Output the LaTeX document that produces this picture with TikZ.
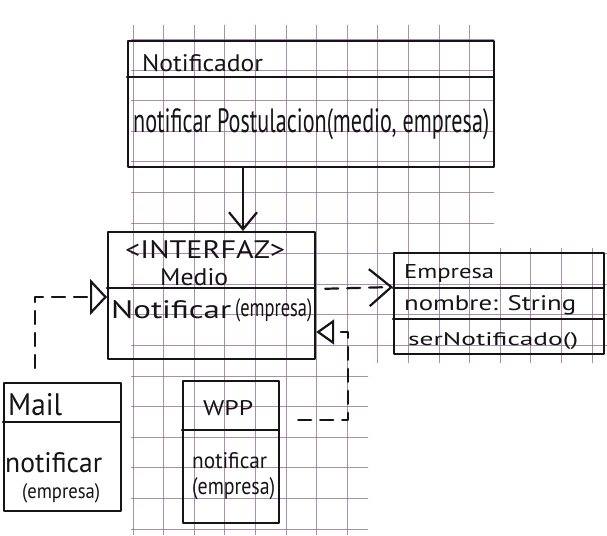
\documentclass[tikz,border=0pt]{standalone}
\usepackage{fontspec}
\setmainfont{PT Sans}
\usetikzlibrary{arrows.meta}
\definecolor{gridc}{RGB}{140,108,138}
\definecolor{ink}{RGB}{22,20,22}
\newcommand\fwh[3]{\resizebox{#1pt}{#2pt}{#3}}
\tikzset{
  ln/.style={draw=ink,line width=2.2pt,line cap=round,line join=round},
  cls/.style={ln,rectangle,inner sep=0pt,anchor=north west},
  txt/.style={inner sep=0pt,text=ink,anchor=base west},
  gridl/.style={draw=gridc,line width=0.8pt,opacity=0.75},
  dsh/.style={ln,dash pattern=on 13pt off 9pt},
  vhead/.style={-{Straight Barb[length=17pt,width=28pt]}},
  dephead/.style={-{Straight Barb[length=22pt,width=37pt]}},
  trileft/.style={-{Triangle[open,length=17pt,width=36pt]}},
  triright/.style={-{Triangle[open,length=18pt,width=25pt]}}
}
\begin{document}
\begin{tikzpicture}[x=1pt,y=-1pt]
\useasboundingbox[fill=white] (0,0) rectangle (607,535);
% grid paper
\begin{scope}
  \clip (131,25) rectangle (494,248) (131,248) rectangle (607,363) (131,363) rectangle (368,535);
  \foreach \i in {0,...,15} \draw[gridl] ({133+30.6*\i},0) -- ({133+30.6*\i},535);
  \foreach \j in {0,...,16} \draw[gridl] (0,{39.4+30.6*\j}) -- (607,{39.4+30.6*\j});
\end{scope}
% classes
\node[cls,minimum width=366pt,minimum height=126pt] (notif) at (127,40) {};
\node[cls,minimum width=207pt,minimum height=127pt] (medio) at (107,231) {};
\node[cls,minimum width=210pt,minimum height=101pt] (empresa) at (393,252) {};
\node[cls,minimum width=117pt,minimum height=128pt] (mail) at (3,382) {};
\node[cls,minimum width=96pt,minimum height=142pt] (wpp) at (182,380) {};
% dividers
\draw[ln] (127,77) -- (493,77);
\draw[ln] (107,288) -- (314,288);
\draw[ln] (393,288) -- (603,288);
\draw[ln] (393,319) -- (603,319);
\draw[ln] (3,422) -- (120,422);
\draw[ln] (182,430) -- (278,430);
% texts
\node[txt] (tnot) at (142,72) {\fwh{121}{17}{Notificador}};
\node[txt] (tnotm) at (133,132) {\fwh{356}{24}{notificar Postulacion(medio, empresa)}};
\node[txt] (tint) at (125,258) {\fwh{160}{18}{<INTERFAZ>}};
\node[txt] (tmed) at (160,285) {\fwh{68}{17}{Medio}};
\node[txt] (tmn) at (111,318) {\fwh{120}{18}{Notificar}};
\node[txt] (tme) at (235,316) {\fwh{77}{18}{(empresa)}};
\node[txt] (temp) at (404,278) {\fwh{90}{14}{Empresa}};
\node[txt] (tnom) at (404,310) {\fwh{172}{15}{nombre: String}};
\node[txt] (tser) at (408,345) {\fwh{170}{13}{serNotificado()}};
\node[txt] (tmail) at (8,415) {\fwh{54}{22}{Mail}};
\node[txt] (tmn2) at (5,472) {\fwh{97}{20}{notificar}};
\node[txt] (tme2) at (22,498) {\fwh{78}{15}{(empresa)}};
\node[txt] (twpp) at (203,415) {\fwh{50}{15}{WPP}};
\node[txt] (tmn3) at (192,468) {\fwh{75}{16}{notificar}};
\node[txt] (tme3) at (192,494) {\fwh{83}{17}{(empresa)}};
% connectors
\coordinate (ax) at (243,0);
\draw[ln,vhead] (notif.south -| ax) -- (medio.north -| ax);
\coordinate (dy1) at (0,289);
\coordinate (dy2) at (0,287);
\draw[dsh,dephead,shorten <=9pt] (medio.east |- dy1) -- (empresa.west |- dy2);
\coordinate (mx) at (35,0);
\coordinate (my) at (0,297);
\draw[dsh,trileft,shorten <=14pt] (mail.north -| mx) |- (medio.west |- my);
\coordinate (wy) at (0,420);
\coordinate (c2) at (348,332);
\draw[dsh,triright,shorten <=18pt] (wpp.east |- wy) -| (c2) -- (c2 -| medio.east);
\end{tikzpicture}
\end{document}
